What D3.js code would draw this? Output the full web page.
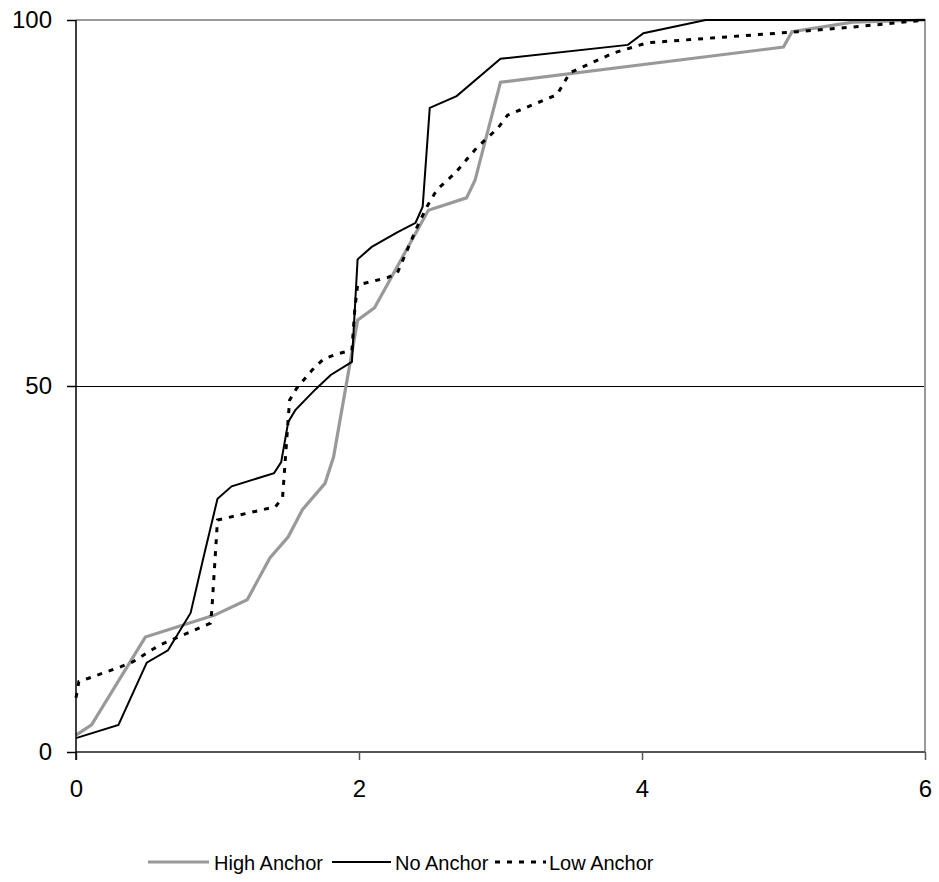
<!DOCTYPE html>
<html>
<head>
<meta charset="utf-8">
<script src="https://cdn.jsdelivr.net/npm/d3@7"></script>
<style>
  body { margin: 0; background: #fff; }
  svg text { font-family: "Liberation Sans", Arial, sans-serif; fill: #000; }
</style>
</head>
<body>
<script>
// values (x, cumulative %)
const highX = [0, 0.11, 0.49, 0.98, 1.21, 1.37, 1.50, 1.60, 1.76, 1.82, 1.99, 2.11, 2.49, 2.76, 2.82, 3.00, 5.00, 5.06, 5.49, 6];
const highY = [2.3, 3.7, 15.7, 18.7, 20.8, 26.5, 29.4, 33.1, 36.7, 40.3, 59.0, 60.7, 74.0, 75.7, 78.1, 91.5, 96.3, 98.4, 99.7, 100];

const noX = [0, 0.30, 0.50, 0.65, 0.81, 0.90, 1.00, 1.10, 1.40, 1.45, 1.50, 1.55, 1.69, 1.80, 1.95, 1.99, 2.09, 2.27, 2.40, 2.45, 2.50, 2.69, 3.00, 3.90, 4.01, 4.45, 6];
const noY = [1.9, 3.7, 12.2, 13.9, 19.0, 26.5, 34.6, 36.3, 38.1, 39.6, 45.1, 46.7, 49.5, 51.5, 53.3, 67.3, 69.0, 71.0, 72.3, 74.5, 88.0, 89.6, 94.7, 96.6, 98.2, 100, 100];

const lowX = [0, 0.02, 0.31, 0.40, 0.59, 0.95, 0.96, 1.00, 1.41, 1.46, 1.50, 1.51, 1.56, 1.67, 1.75, 1.85, 1.95, 1.97, 1.99, 2.20, 2.27, 2.41, 2.48, 2.55, 2.68, 2.83, 2.98, 3.05, 3.40, 3.49, 3.80, 4.04, 5.10, 5.47, 6];
const lowY = [7.4, 9.6, 11.6, 12.3, 14.6, 17.6, 19.4, 31.7, 33.5, 34.8, 45.6, 48.1, 49.7, 52.2, 53.7, 54.4, 54.9, 60.4, 63.8, 64.8, 65.4, 71.7, 74.5, 76.8, 79.1, 82.5, 85.2, 87.0, 89.8, 92.8, 95.5, 96.9, 98.4, 99.0, 100];

const seriesNames = ["High Anchor", "No Anchor", "Low Anchor"];
const xTicks = [0, 2, 4, 6];
const yTicks = [0, 50, 100];

const W = 939, H = 882;
const pLeft = 76, pRight = 925, pTop = 20, pBottom = 752;

const svg = d3.select("body").append("svg")
    .attr("width", W)
    .attr("height", H);

const x = d3.scaleLinear().domain([0, 6]).range([pLeft, pRight]);
const y = d3.scaleLinear().domain([0, 100]).range([pBottom, pTop]);

const styles = [
    { stroke: "#999", width: 3.2, dash: null },
    { stroke: "#000", width: 2, dash: null },
    { stroke: "#000", width: 3, dash: "5,7" }
];

// gridline at 50
svg.append("line")
    .attr("x1", pLeft).attr("x2", pRight)
    .attr("y1", y(50) + 0.5).attr("y2", y(50) + 0.5)
    .attr("stroke", "#000").attr("stroke-width", 1)
    .attr("shape-rendering", "crispEdges");

// frame top + right
svg.append("path")
    .attr("d", `M${pLeft},${pTop}H${pRight}V${pBottom}`)
    .attr("fill", "none").attr("stroke", "#999").attr("stroke-width", 2);

const line = d3.line()
    .x(d => x(d[0]))
    .y(d => y(d[1]));

const data = [
    d3.zip(highX, highY),
    d3.zip(noX, noY),
    d3.zip(lowX, lowY)
];

data.forEach((pts, i) => {
    svg.append("path")
        .datum(pts)
        .attr("fill", "none")
        .attr("stroke", styles[i].stroke)
        .attr("stroke-width", styles[i].width)
        .attr("stroke-dasharray", styles[i].dash)
        .attr("stroke-linejoin", "miter")
        .attr("d", line);
});

// axes
const xAxis = svg.append("g")
    .attr("transform", `translate(0,${pBottom})`)
    .call(d3.axisBottom(x).tickValues(xTicks).tickSize(8).tickPadding(20).tickFormat(d3.format("d")));
xAxis.select(".domain").attr("stroke", "#555").attr("stroke-width", 2).attr("d", `M${pLeft},0H${pRight}`);
xAxis.selectAll(".tick line").attr("stroke", "#555").attr("stroke-width", 1.5);
xAxis.selectAll("text").attr("font-size", 24).attr("font-family", "Liberation Sans, Arial, sans-serif");

const yAxis = svg.append("g")
    .attr("transform", `translate(${pLeft},0)`)
    .call(d3.axisLeft(y).tickValues(yTicks).tickSize(9).tickPadding(15));
yAxis.select(".domain").attr("stroke", "#000").attr("stroke-width", 1.5).attr("d", `M0,${pTop}V${pBottom + 8}`);
yAxis.selectAll(".tick line").attr("stroke", "#000").attr("stroke-width", 1.5);
yAxis.selectAll("text").attr("font-size", 24).attr("font-family", "Liberation Sans, Arial, sans-serif");

// legend
const legendY = 862;
const legendPos = [
    { x0: 148, x1: 209, tx: 214 },
    { x0: 332, x1: 391, tx: 395 },
    { x0: 495, x1: 546, tx: 549 }
];
seriesNames.forEach((name, i) => {
    const p = legendPos[i];
    svg.append("line")
        .attr("x1", p.x0).attr("x2", p.x1)
        .attr("y1", legendY).attr("y2", legendY)
        .attr("stroke", styles[i].stroke)
        .attr("stroke-width", styles[i].width)
        .attr("stroke-dasharray", styles[i].dash);
    svg.append("text")
        .attr("x", p.tx).attr("y", legendY + 8)
        .attr("font-size", 20)
        .text(name);
});
</script>
</body>
</html>
